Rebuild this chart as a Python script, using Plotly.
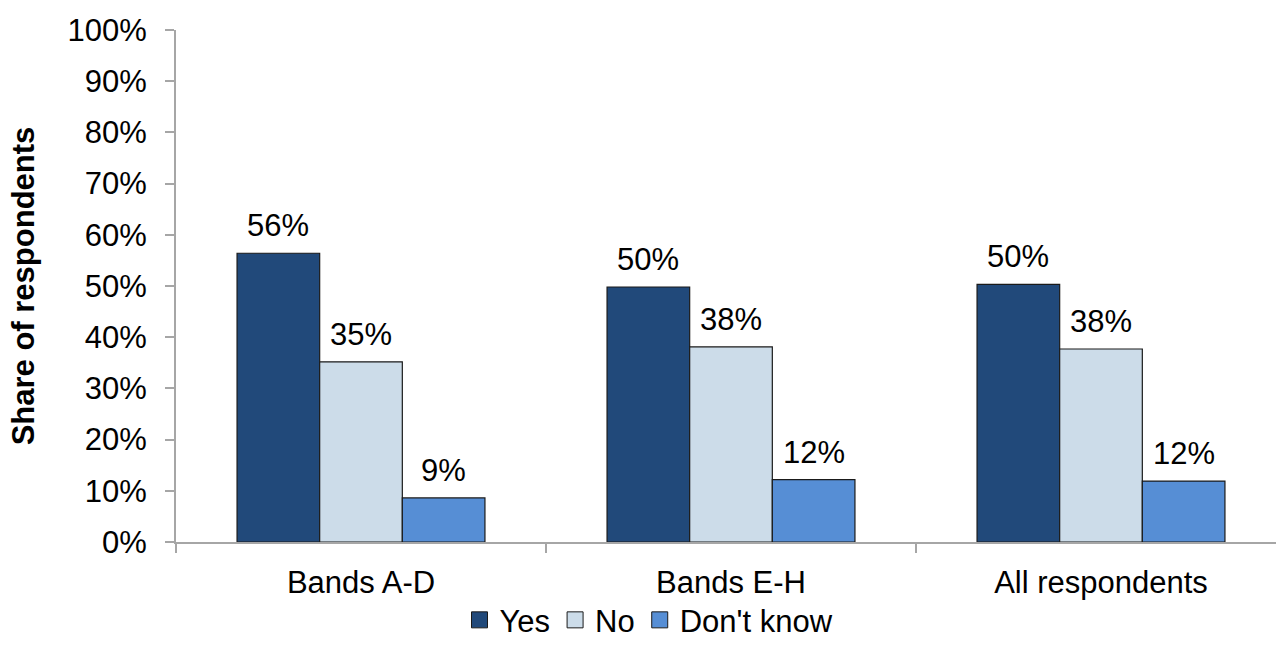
import plotly.graph_objects as go

# Survey answers by respondent group
categories = ["Bands A-D", "Bands E-H", "All respondents"]
series_names = ["Yes", "No", "Don't know"]
yes_vals = [0.564, 0.498, 0.503]
no_vals = [0.352, 0.381, 0.377]
dont_know_vals = [0.086, 0.122, 0.119]
y_tick_vals = [0, 0.1, 0.2, 0.3, 0.4, 0.5, 0.6, 0.7, 0.8, 0.9, 1.0]
y_tick_text = ["0%", "10%", "20%", "30%", "40%", "50%", "60%", "70%", "80%", "90%", "100%"]

colors = ["#21497A", "#CCDCE9", "#568ED5"]
OUTLINE = "#1a1a1a"
FONT = "Liberation Sans, Arial, sans-serif"
FS = 31
BARGAP = 0.33

fig = go.Figure()
all_series = [yes_vals, no_vals, dont_know_vals]
for name, vals, col in zip(series_names, all_series, colors):
    fig.add_trace(go.Bar(
        name=name,
        x=categories,
        y=vals,
        marker=dict(color=col, line=dict(color=OUTLINE, width=1.2)),
        showlegend=False,
    ))

# Legend entries with larger square swatches
for name, col in zip(series_names, colors):
    fig.add_trace(go.Scatter(
        name=name, x=[None], y=[None], mode="markers",
        marker=dict(symbol="square", size=16, color=col,
                    line=dict(color=OUTLINE, width=1)),
        showlegend=True,
    ))

# Value labels above each bar
bar_w = (1 - BARGAP) / len(all_series)
annotations = []
for s_idx, vals in enumerate(all_series):
    offset = (s_idx - (len(all_series) - 1) / 2) * bar_w
    for c_idx, v in enumerate(vals):
        annotations.append(dict(
            x=c_idx + offset, y=v, xref="x", yref="y",
            text=f"{v:.0%}", showarrow=False,
            yanchor="bottom", yshift=8,
            font=dict(family=FONT, size=FS, color="#000000"),
        ))

fig.update_layout(
    width=1276, height=650,
    margin=dict(l=176, r=0, t=30, b=108, autoexpand=False),
    paper_bgcolor="white", plot_bgcolor="white",
    barmode="group", bargap=BARGAP, bargroupgap=0,
    font=dict(family=FONT, size=FS, color="#000000"),
    showlegend=True,
    legend=dict(
        orientation="h", x=0.43, xanchor="center", y=-0.1, yanchor="top",
        font=dict(family=FONT, size=FS, color="#000000"),
        itemwidth=30, tracegroupgap=0,
    ),
    annotations=annotations,
)

fig.update_xaxes(
    type="category",
    range=[-0.5, 2.5 - 10 / 370],
    showline=True, linecolor="#A6A6A6", linewidth=2,
    ticks="outside", tickson="boundaries", ticklen=9, tickcolor="#A6A6A6", tickwidth=2,
    showgrid=False, zeroline=False,
    tickfont=dict(family=FONT, size=FS),
    ticklabelstandoff=12,
)
fig.update_yaxes(
    range=[0, 1], tickvals=y_tick_vals, ticktext=y_tick_text,
    showline=True, linecolor="#A6A6A6", linewidth=2,
    ticks="outside", ticklen=9, tickcolor="#A6A6A6", tickwidth=2,
    showgrid=False, zeroline=False,
    tickfont=dict(family=FONT, size=FS),
    ticklabelstandoff=12,
    title=dict(text="<b>Share of respondents</b>", font=dict(family=FONT, size=FS), standoff=24),
)

fig.write_html("out.html")
